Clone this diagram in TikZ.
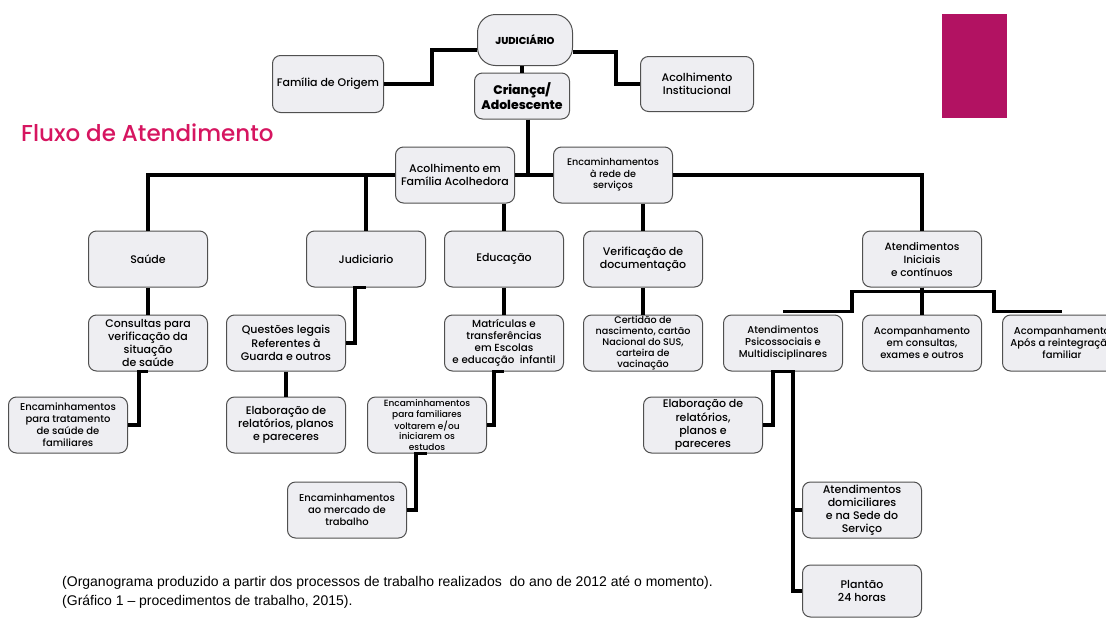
\documentclass[tikz,border=0pt]{standalone}
\usepackage{fontspec}
\setmainfont{Poppins}[UprightFont={* Medium}]
\newfontfamily\notafont{Liberation Sans}
\usepackage{tikz}

\definecolor{fluxo}{RGB}{214,21,96}
\definecolor{faixa}{RGB}{178,18,98}
\definecolor{fundo}{RGB}{238,238,242}
\definecolor{borda}{RGB}{80,80,80}

\begin{document}
\begin{tikzpicture}[x=1pt,y=1pt,node distance=84pt,
		box/.style={draw=borda,fill=fundo,line width=1pt,rounded corners=8pt,align=center,
			minimum width=119pt,minimum height=56pt,inner sep=1pt,font=\fontsize{11}{13.2}\selectfont},
		smalltext/.style={font=\fontsize{10}{12}\selectfont},
		link/.style={line width=3.5pt}]
		\useasboundingbox (0,0) rectangle (1106,-619);

		% topo
		\node[box,rounded corners=18pt,minimum width=95pt,minimum height=51pt,font=\bfseries\fontsize{10}{11}\selectfont]	(jud)	at (525,-40)	{JUDICIÁRIO};
		\node[box,minimum width=95pt,minimum height=46pt,font=\bfseries\fontsize{12.5}{15}\selectfont]	(cri)	[below of =jud, node distance=56pt, xshift=-3pt]	{Criança/\\Adolescente};
		\node[box,minimum width=111pt,minimum height=57pt]	(fam)	[left of =cri, node distance=194pt, yshift=12pt]	{Família de Origem};
		\node[box,minimum width=113pt,minimum height=55pt]	(ains)	[right of =cri, node distance=175pt, yshift=12pt]	{Acolhimento\\Institucional};

		% segundo nivel
		\node[box]	(acf)	at (455,-175)	{Acolhimento em\\Família Acolhedora};
		\node[box,font=\fontsize{9.6}{11.5}\selectfont]	(enc)	[right of =acf, node distance=158pt]	{Encaminhamentos\\à rede de\\serviços};

		\node[box]	(sau)	at (148,-259)	{Saúde};
		\node[box]	(jd2)	[right of =sau, node distance=218pt]	{Judiciario};
		\node[box]	(edu)	[right of =jd2, node distance=138pt]	{Educação};
		\node[box]	(ver)	[right of =edu, node distance=139pt]	{Verificação de\\documentação};
		\node[box,font=\fontsize{10.5}{13}\selectfont]	(ini)	[right of =ver, node distance=279pt]	{Atendimentos\\Iniciais\\e contínuos};

		\node[box]	(con)	[below of =sau]	{Consultas para\\verificação da\\situação\\de saúde};
		\node[box]	(que)	[below of =jd2, xshift=-80pt]	{Questões legais\\Referentes à\\Guarda e outros};
		\node[box,font=\fontsize{10.3}{12}\selectfont]	(mat)	[below of =edu]	{Matrículas e\\transferências\\em Escolas\\e educação\ \ infantil};
		\node[box,font=\fontsize{9.6}{10.8}\selectfont]	(cer)	[below of =ver]	{Certidão de\\nascimento, cartão\\Nacional do SUS,\\carteira de\\vacinação};
		\node[box,smalltext]	(psi)	[right of =cer, node distance=140pt]	{Atendimentos\\Psicossociais e\\Multidisciplinares};
		\node[box,smalltext]	(acc)	[below of =ini]	{Acompanhamento\\em consultas,\\exames e outros};
		\node[box,smalltext]	(apo)	[right of =acc, node distance=140pt]	{Acompanhamento\\Após a reintegração\\familiar};

		\node[box,smalltext]	(ent)	[below of =con, node distance=82pt, xshift=-80pt]	{Encaminhamentos\\para tratamento\\de saúde de\\familiares};
		\node[box]	(ela)	[below of =que, node distance=82pt]	{Elaboração de\\relatórios, planos\\e pareceres};
		\node[box,font=\fontsize{9}{10.5}\selectfont]	(efa)	[below of =mat, node distance=82pt, xshift=-77pt]	{Encaminhamentos\\para familiares\\voltarem e/ou\\iniciarem os\\estudos};
		\node[box]	(ela2)	[below of =psi, node distance=82pt, xshift=-80pt]	{Elaboração de\\relatórios,\\planos e\\pareceres};

		\node[box,smalltext]	(mer)	[below of =efa, node distance=85pt, xshift=-80pt]	{Encaminhamentos\\ao mercado de\\trabalho};
		\node[box]	(dom)	[below of =psi, node distance=167pt, xshift=79pt]	{Atendimentos\\domiciliares\\e na Sede do\\Serviço};
		\node[box,minimum height=52pt]	(pla)	[below of =dom, node distance=81pt]	{Plantão\\24 horas};

		% ligacoes
		\draw[link] ([yshift=-10pt]jud.west) -- ++(-45,0) |- (fam.east);
		\draw[link] ([yshift=-12pt]jud.east) -- ++(43,0) |- (ains.west);
		\draw[link] (cri.north) -- (cri.north |- jud.south);
		\draw[link] ([xshift=6pt]cri.south) -- ([xshift=6pt]cri.south |- acf.east);
		\draw[link] (sau.north) |- (acf.west);
		\draw[link] (jd2.north) -- (jd2.north |- acf.west);
		\draw[link] (acf.east) -- (enc.west);
		\draw[link] (enc.east) -| (ini.north);
		\draw[link] (edu.north) -- (edu.north |- acf.south);
		\draw[link] (ver.north) -- (ver.north |- enc.south);

		\draw[link] (sau) -- (con);
		\draw[link] (jd2.south) -- ++(-11,0) |- (que.east);
		\draw[link] (edu) -- (mat);
		\draw[link] (ver) -- (cer);
		\draw[link] (ini.south) |- ++(-70,-4) |- ([yshift=3pt]psi.north);
		\draw[link] (ini) -- (acc);
		\draw[link] (ini.south) |- ++(72,-4) |- ([yshift=3pt]apo.north);

		\draw[link] (con.south) -- ++(-9,0) |- (ent.east);
		\draw[link] (que) -- (ela);
		\draw[link] (mat.south) -- ++(-10,0) |- (efa.east);
		\draw[link] (efa.south) -- ++(-11,0) |- (mer.east);
		\draw[link] (psi.south) -- ++(-10,0) |- (ela2.east);
		\draw[link] (psi.south) -- ++(10,0) |- (dom.west);
		\draw[link] (psi.south) -- ++(10,0) |- (pla.west);

		% titulo, faixa e nota
		\node[font=\fontsize{23}{27}\selectfont,text=fluxo,anchor=west,inner sep=0pt]	(tit)	at (21,-133)	{Fluxo de Atendimento};
		\fill[faixa] (942,-14) rectangle (1007,-118);
		\node[font=\notafont\fontsize{14}{19}\selectfont,align=left,anchor=base west,inner sep=0pt]	(nota)	at (62,-605)
			{(Organograma produzido a partir dos processos de trabalho realizados\ \ do ano de 2012 até o momento).\\(Gráfico 1 – procedimentos de trabalho, 2015).};
	\end{tikzpicture}
\end{document}
